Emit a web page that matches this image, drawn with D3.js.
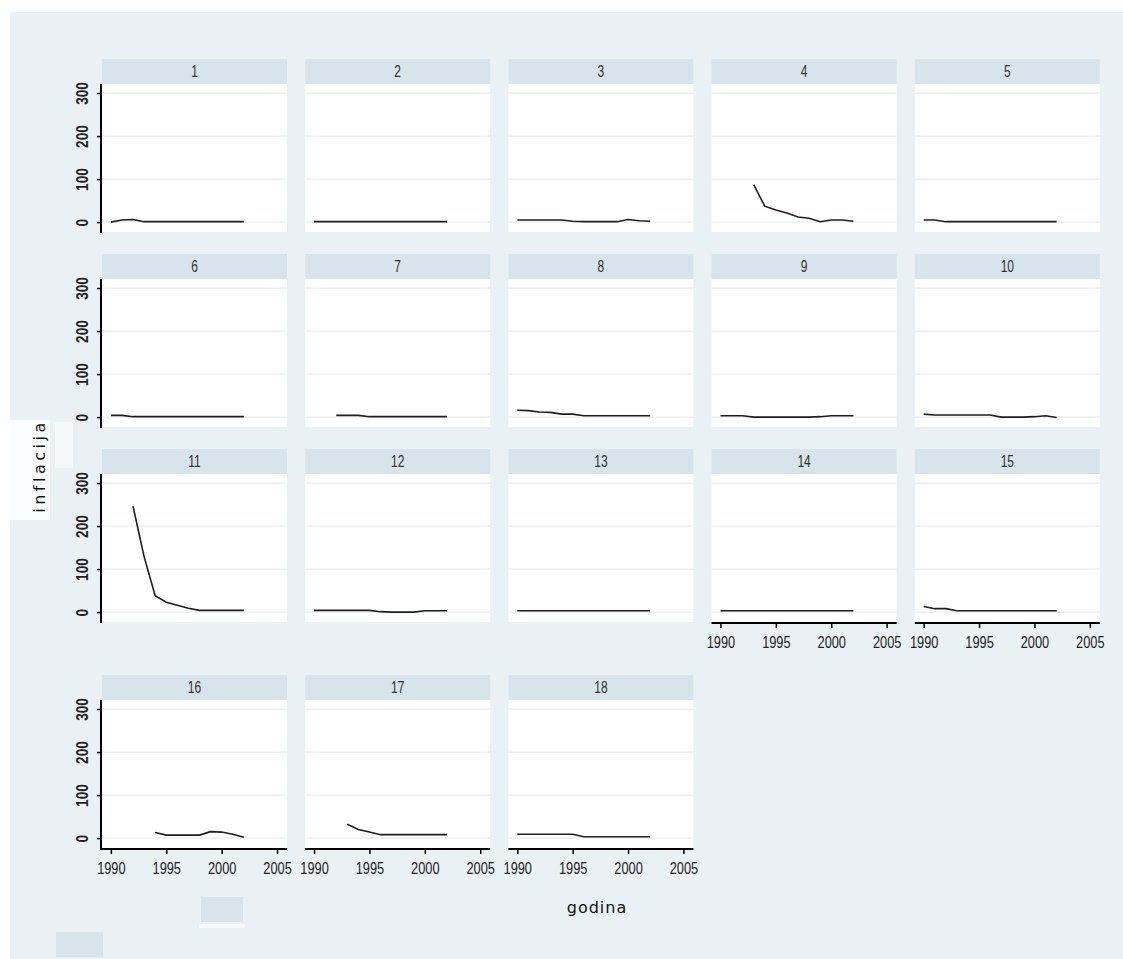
<!DOCTYPE html>
<html>
<head>
<meta charset="utf-8">
<script src="https://cdn.jsdelivr.net/npm/d3@7"></script>
<style>
  body { margin: 0; background: #fff; }
  text { font-family: "Liberation Sans", Arial, sans-serif; }
</style>
</head>
<body>
<div id="chart"></div>
<script>
// panel labels (zemlje 1..18)
var panels = ["1","2","3","4","5","6","7","8","9","10","11","12","13","14","15","16","17","18"];
var years = [1990,1991,1992,1993,1994,1995,1996,1997,1998,1999,2000,2001,2002];

// inflacija po godini, null = nema podatka
var s1  = [0,5,6,1,1,1,1,1,1,1,1,1,1];
var s2  = [1,1,1,1,1,1,1,1,1,1,1,1,1];
var s3  = [5,5,5,5,5,2,1,1,1,1,6,3,2];
var s4  = [null,null,null,87,37,28,21,12,9,1,5,5,2];
var s5  = [5,5,1,1,1,1,1,1,1,1,1,1,1];
var s6  = [4,4,1,1,1,1,1,1,1,1,1,1,1];
var s7  = [null,null,4,4,4,1,1,1,1,1,1,1,1];
var s8  = [16,15,12,11,7,7,3,3,3,3,3,3,3];
var s9  = [3,3,3,0,0,0,0,0,0,1,3,3,3];
var s10 = [7,5,5,5,5,5,5,0,0,0,1,3,-1];
var s11 = [null,null,246,129,38,23,16,9,4,4,4,4,4];
var s12 = [4,4,4,4,4,4,1,0,0,0,3,3,3];
var s13 = [3,3,3,3,3,3,3,3,3,3,3,3,3];
var s14 = [3,3,3,3,3,3,3,3,3,3,3,3,3];
var s15 = [13,8,8,3,3,3,3,3,3,3,3,3,3];
var s16 = [null,null,null,null,13,7,7,7,7,15,14,9,2];
var s17 = [null,null,null,32,20,14,8,8,8,8,8,8,8];
var s18 = [9,9,9,9,9,9,3,3,3,3,3,3,3];
var series = [s1,s2,s3,s4,s5,s6,s7,s8,s9,s10,s11,s12,s13,s14,s15,s16,s17,s18];

var yTicks = [0, 100, 200, 300];
var xTicks = [1990, 1995, 2000, 2005];

var W = 1123, H = 959;
var ncol = 5;
var colLeft = 102, colStep = 203.2, pw = 185, ph = 148, stripH = 25;
var rowTop = [84, 279, 474, 700];

var svg = d3.select("#chart").append("svg")
    .attr("width", W)
    .attr("height", H);

// outer background
svg.append("rect")
    .attr("x", 10).attr("y", 12)
    .attr("width", W - 10).attr("height", H - 12)
    .attr("fill", "#eaf1f4");

// scan smudges seen in the picture
svg.append("rect").attr("x", 10).attr("y", 420).attr("width", 40).attr("height", 100)
    .attr("fill", "#fff").attr("opacity", 0.8);
svg.append("rect").attr("x", 55).attr("y", 422).attr("width", 18).attr("height", 46)
    .attr("fill", "#fff").attr("opacity", 0.55);
svg.append("rect").attr("x", 56).attr("y", 932).attr("width", 47).attr("height", 25)
    .attr("fill", "#d8e3ea");
svg.append("rect").attr("x", 201).attr("y", 897).attr("width", 42).attr("height", 25)
    .attr("fill", "#d8e3ea");
svg.append("rect").attr("x", 199).attr("y", 924).attr("width", 46).attr("height", 4)
    .attr("fill", "#fff").attr("opacity", 0.6);

var x = d3.scaleLinear().domain([1989.2, 2005.9]).range([0, pw]);
var y = d3.scaleLinear().domain([-23, 321]).range([ph, 0]);

var line = d3.line()
    .defined(function(d) { return d[1] != null; })
    .x(function(d) { return x(d[0]); })
    .y(function(d) { return y(d[1]); });

panels.forEach(function(name, i) {
    var col = i % ncol, row = Math.floor(i / ncol);
    var g = svg.append("g")
        .attr("transform", "translate(" + (colLeft + col * colStep) + "," + rowTop[row] + ")");

    // strip
    g.append("rect")
        .attr("x", 0).attr("y", -stripH)
        .attr("width", pw).attr("height", stripH)
        .attr("fill", "#d8e4eb");
    g.append("text")
        .attr("transform", "translate(" + (pw / 2) + "," + (-stripH / 2) + ") scale(0.8,1.1)")
        .attr("dy", "0.35em")
        .attr("text-anchor", "middle")
        .attr("font-size", 15)
        .attr("fill", "#333")
        .text(name);

    // plot region
    g.append("rect")
        .attr("width", pw).attr("height", ph)
        .attr("fill", "#fff");

    g.selectAll(".grid")
        .data(yTicks)
        .enter().append("line")
        .attr("x1", 0).attr("x2", pw)
        .attr("y1", function(d) { return y(d); })
        .attr("y2", function(d) { return y(d); })
        .attr("stroke", "#e7edf0")
        .attr("stroke-width", 1.2);

    var pts = years.map(function(yr, k) { return [yr, series[i][k]]; });
    g.append("path")
        .datum(pts)
        .attr("fill", "none")
        .attr("stroke", "#1e1e1e")
        .attr("stroke-width", 1.6)
        .attr("d", line);

    // y axis on first column
    if (col === 0) {
        var ya = g.append("g")
            .attr("transform", "translate(-1,0)")
            .call(d3.axisLeft(y).tickValues(yTicks).tickSize(4));
        ya.select(".domain").remove();
        ya.selectAll(".tick line").attr("stroke", "#000").attr("stroke-width", 1.5);
        ya.selectAll(".tick text")
            .attr("transform", "rotate(-90) scale(0.85,1.05)")
            .attr("text-anchor", "middle")
            .attr("x", 0).attr("y", -18)
            .attr("dy", "0.35em")
            .attr("font-size", 16)
            .attr("font-family", null)
            .attr("font-weight", "bold")
            .attr("fill", "#222");
        ya.append("line")
            .attr("x1", 0).attr("x2", 0)
            .attr("y1", 0).attr("y2", ph + 1)
            .attr("stroke", "#000").attr("stroke-width", 2);
    }

    // x axis on the lowest panel of each column
    if (i + ncol >= panels.length) {
        var xa = g.append("g")
            .attr("transform", "translate(0," + (ph + 1) + ")")
            .call(d3.axisBottom(x).tickValues(xTicks).tickSize(5).tickPadding(9)
                .tickFormat(d3.format("d")));
        xa.select(".domain").remove();
        xa.selectAll(".tick line").attr("stroke", "#000").attr("stroke-width", 1.5);
        xa.selectAll(".tick text")
            .attr("transform", "scale(0.8,1)")
            .attr("font-size", 16)
            .attr("font-family", null)
            .attr("fill", "#222");
        xa.append("line")
            .attr("x1", col === 0 ? -2 : 0).attr("x2", pw)
            .attr("y1", 0).attr("y2", 0)
            .attr("stroke", "#000").attr("stroke-width", 2);
    }
});

// axis titles
svg.append("text")
    .attr("transform", "translate(45,466) rotate(-90)")
    .attr("text-anchor", "middle")
    .style("font-family", "'DejaVu Sans', sans-serif")
    .attr("font-size", 16)
    .attr("letter-spacing", 3.5)
    .attr("fill", "#111")
    .text("inflacija");

svg.append("text")
    .attr("x", 597).attr("y", 913)
    .attr("text-anchor", "middle")
    .style("font-family", "'DejaVu Sans', sans-serif")
    .attr("font-size", 16)
    .attr("letter-spacing", 1)
    .attr("fill", "#111")
    .text("godina");
</script>
</body>
</html>
